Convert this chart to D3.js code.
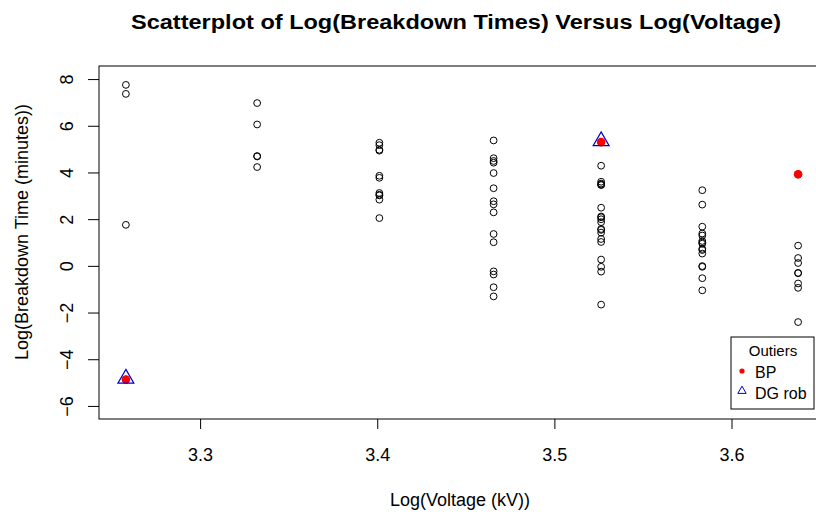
<!DOCTYPE html>
<html>
<head>
<meta charset="utf-8">
<script src="https://cdnjs.cloudflare.com/ajax/libs/d3/7.8.5/d3.min.js"></script>
<style>
  body { margin: 0; background: #fff; }
  svg { display: block; font-family: "Liberation Sans", Arial, sans-serif; }
</style>
</head>
<body>
<div id="chart"></div>
<script>
// log(kV) for 26..38 kV
const logVoltage = [3.2581, 3.3322, 3.4012, 3.4657, 3.5264, 3.5835, 3.6376];
// log breakdown times (minutes), one list per voltage
const logTimes = [
    [1.756, 7.365, 7.751, -4.87],
    [4.232, 6.055, 4.703, 4.685, 6.973],
    [2.836, 3.121, 3.045, 5.170, 4.935, 4.971, 3.018, 3.770, 5.273, 3.857, 2.046],
    [-0.916, 4.417, 2.291, 4.492, 5.371, 1.012, -0.236, 2.768, 1.364, -1.309, -0.371, 4.611, 3.325, 2.635, 3.975],
    [-0.041, 1.423, -1.661, -0.248, 2.081, 3.458, 1.995, 1.872, 2.113, 3.524, 3.482, 1.151, 1.579, 1.022, 1.541, 0.270, 2.490, 3.603, 4.289, 5.30],
    [0.678, -0.528, 0.948, 0.525, 0.997, 3.239, -1.050, -0.010, 1.384, 1.300, 0.728, -0.041, 1.677, 1.065, 2.623],
    [-0.755, -0.315, 0.336, -0.301, -0.942, 0.122, -2.408, 0.867, 3.92]
];
// flagged outliers
const bpX = [3.2581, 3.5264, 3.6376];
const bpY = [-4.87, 5.30, 3.92];
const dgX = [3.2581, 3.5264];
const dgY = [-4.87, 5.30];

const xTicks = [3.3, 3.4, 3.5, 3.6];
const yTicks = [-6, -4, -2, 0, 2, 4, 6, 8];

const width = 816, height = 515;
const plotLeft = 99, plotTop = 66, plotRight = 825, plotBottom = 419;

let points = [];
logVoltage.forEach((v, i) => logTimes[i].forEach(t => points.push([v, t])));

// R style: data range padded by 4%
const xr = d3.extent(logVoltage);
const xpad = (xr[1] - xr[0]) * 0.04;
const xScale = d3.scaleLinear().domain([xr[0] - xpad, xr[1] + xpad]).range([plotLeft, plotRight]);
const yScale = d3.scaleLinear().domain([-6 - 0.56, 8 + 0.56]).range([plotBottom, plotTop]);

const svg = d3.select("#chart")
    .append("svg")
    .attr("width", width)
    .attr("height", height);

// Title
svg.append("text")
    .attr("x", 456)
    .attr("y", 29)
    .attr("text-anchor", "middle")
    .attr("textLength", 650)
    .attr("lengthAdjust", "spacingAndGlyphs")
    .style("font-size", "20px")
    .style("font-weight", "bold")
    .text("Scatterplot of Log(Breakdown Times) Versus Log(Voltage)");

// Axes
const xAxis = d3.axisBottom(xScale).tickValues(xTicks).tickFormat(d3.format(".1f")).tickSize(10).tickPadding(19);
const yAxis = d3.axisLeft(yScale).tickValues(yTicks).tickSize(11);

const gx = svg.append("g")
    .attr("transform", "translate(0," + plotBottom + ")")
    .call(xAxis);
gx.select(".domain").remove();
gx.selectAll("text").style("font-size", "18px").attr("fill", "#000");

const gy = svg.append("g")
    .attr("transform", "translate(" + plotLeft + ",0)")
    .call(yAxis);
gy.select(".domain").remove();
gy.selectAll("text")
    .style("font-size", "18px")
    .attr("fill", "#000")
    .attr("x", 0)
    .attr("dy", 0)
    .attr("text-anchor", "middle")
    .attr("transform", "translate(-26,0) rotate(-90)");

// Box
svg.append("rect")
    .attr("x", plotLeft)
    .attr("y", plotTop)
    .attr("width", plotRight - plotLeft)
    .attr("height", plotBottom - plotTop)
    .attr("fill", "none")
    .attr("stroke", "#000")
    .attr("stroke-width", 1);

// Axis titles
svg.append("text")
    .attr("x", 460)
    .attr("y", 506)
    .attr("text-anchor", "middle")
    .style("font-size", "18px")
    .text("Log(Voltage (kV))");

svg.append("text")
    .attr("transform", "translate(28,232) rotate(-90)")
    .attr("text-anchor", "middle")
    .style("font-size", "18px")
    .text("Log(Breakdown Time (minutes))");

// Points
svg.append("g")
    .selectAll("circle")
    .data(points)
    .enter()
    .append("circle")
    .attr("cx", d => xScale(d[0]))
    .attr("cy", d => yScale(d[1]))
    .attr("r", 3.4)
    .attr("fill", "none")
    .attr("stroke", "#000")
    .attr("stroke-width", 1);

// BP outliers
svg.append("g")
    .selectAll("circle")
    .data(bpX.map((x, i) => [x, bpY[i]]))
    .enter()
    .append("circle")
    .attr("cx", d => xScale(d[0]))
    .attr("cy", d => yScale(d[1]))
    .attr("r", 4.3)
    .attr("fill", "#ff0000");

// DG robust outliers
svg.append("g")
    .selectAll("path")
    .data(dgX.map((x, i) => [x, dgY[i]]))
    .enter()
    .append("path")
    .attr("d", d3.symbol(d3.symbolTriangle, 110))
    .attr("transform", d => "translate(" + xScale(d[0]) + "," + (yScale(d[1]) - 1) + ")")
    .attr("fill", "none")
    .attr("stroke", "#0000cc")
    .attr("stroke-width", 1.2);

// Legend
const lg = svg.append("g").attr("transform", "translate(731,337)");
lg.append("rect")
    .attr("width", 83)
    .attr("height", 72)
    .attr("fill", "#fff")
    .attr("stroke", "#000");
lg.append("text")
    .attr("x", 42)
    .attr("y", 19)
    .attr("text-anchor", "middle")
    .style("font-size", "15px")
    .text("Outiers");
lg.append("circle")
    .attr("cx", 11)
    .attr("cy", 34)
    .attr("r", 2.6)
    .attr("fill", "#ff0000");
lg.append("text")
    .attr("x", 24)
    .attr("y", 41)
    .style("font-size", "16px")
    .text("BP");
lg.append("path")
    .attr("d", d3.symbol(d3.symbolTriangle, 30))
    .attr("transform", "translate(11,54)")
    .attr("fill", "none")
    .attr("stroke", "#0000cc");
lg.append("text")
    .attr("x", 24)
    .attr("y", 62)
    .style("font-size", "16px")
    .text("DG rob");
</script>
</body>
</html>
